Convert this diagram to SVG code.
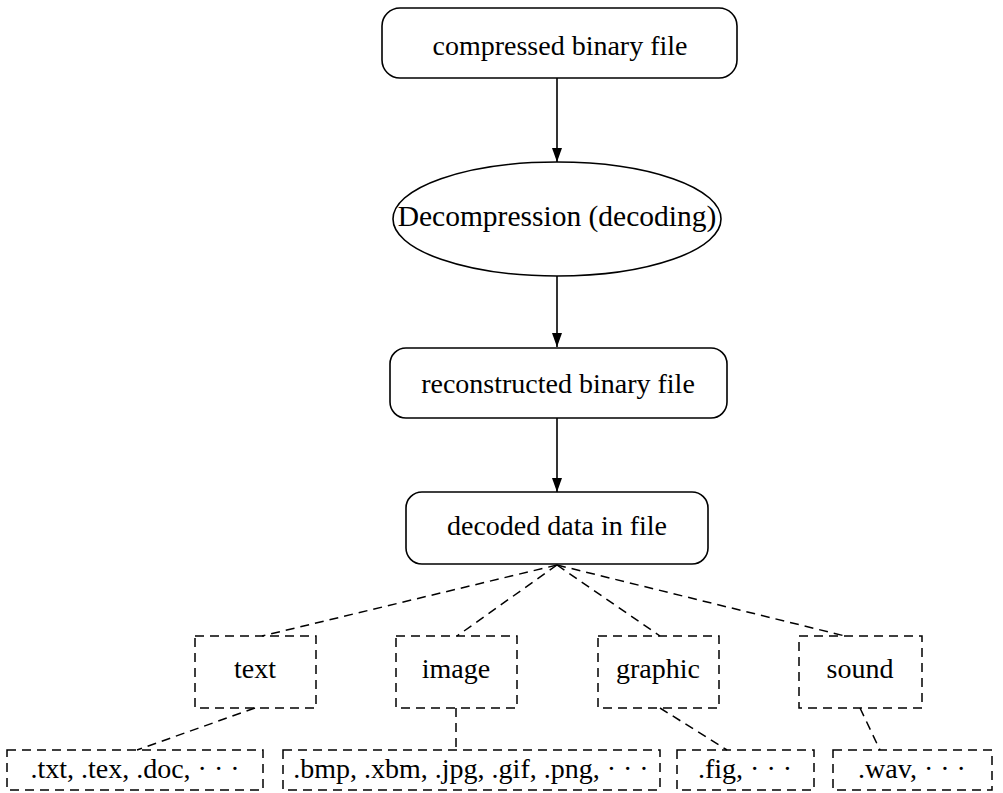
<svg xmlns="http://www.w3.org/2000/svg" width="1003" height="793" viewBox="0 0 1003 793">
  <style>
    .solid { fill: #fff; stroke: #000; stroke-width: 1.6; }
    .dash { fill: none; stroke: #000; stroke-width: 1.5; stroke-dasharray: 9 6; }
    .edge { fill: none; stroke: #000; stroke-width: 1.6; }
    .lbl { font-family: "Liberation Serif", "DejaVu Serif", serif; font-size: 28px; text-anchor: middle; fill: #000; }
    .wide { font-size: 29.5px; }
  </style>
  <defs>
    <marker id="arrow" markerWidth="14" markerHeight="10" refX="14" refY="5" orient="auto" markerUnits="userSpaceOnUse">
      <path d="M0,0 L14,5 L0,10 Z" fill="#000"/>
    </marker>
  </defs>
  <rect width="1003" height="793" fill="#fff"/>

  <g id="connectors">
    <line class="edge" x1="557" y1="78" x2="557" y2="162" marker-end="url(#arrow)"/>
    <line class="edge" x1="557" y1="276" x2="557" y2="347" marker-end="url(#arrow)"/>
    <line class="edge" x1="557" y1="418" x2="557" y2="492" marker-end="url(#arrow)"/>
    <line class="dash" x1="557" y1="565" x2="262" y2="636"/>
    <line class="dash" x1="557" y1="565" x2="457" y2="636"/>
    <line class="dash" x1="557" y1="565" x2="660" y2="636"/>
    <line class="dash" x1="557" y1="565" x2="845" y2="636"/>
    <line class="dash" x1="255" y1="708" x2="137" y2="750"/>
    <line class="dash" x1="456" y1="708" x2="456" y2="750"/>
    <line class="dash" x1="660" y1="708" x2="727" y2="750"/>
    <line class="dash" x1="860" y1="708" x2="880" y2="750"/>
  </g>

  <g id="compressed">
    <rect class="solid" x="382" y="8" width="355" height="70" rx="18"/>
    <text class="lbl" x="560" y="55">compressed binary file</text>
  </g>
  <g id="decompression">
    <ellipse class="solid" cx="557" cy="219" rx="164" ry="57"/>
    <text class="lbl wide" x="557" y="226">Decompression (decoding)</text>
  </g>
  <g id="reconstructed">
    <rect class="solid" x="390" y="348" width="337" height="70" rx="16"/>
    <text class="lbl" x="558" y="393">reconstructed binary file</text>
  </g>
  <g id="decoded">
    <rect class="solid" x="406" y="492" width="302" height="72" rx="16"/>
    <text class="lbl" x="557" y="535">decoded data in file</text>
  </g>

  <g id="text">
    <rect class="dash" x="195" y="636" width="121" height="72"/>
    <text class="lbl" x="255" y="678">text</text>
  </g>
  <g id="image">
    <rect class="dash" x="396" y="636" width="121" height="72"/>
    <text class="lbl" x="456" y="678">image</text>
  </g>
  <g id="graphic">
    <rect class="dash" x="598" y="636" width="121" height="72"/>
    <text class="lbl" x="658" y="678">graphic</text>
  </g>
  <g id="sound">
    <rect class="dash" x="799" y="636" width="123" height="72"/>
    <text class="lbl" x="860" y="678">sound</text>
  </g>

  <g id="text-ext">
    <rect class="dash" x="7" y="750" width="256" height="40"/>
    <text class="lbl" x="135" y="778">.txt, .tex, .doc, · · ·</text>
  </g>
  <g id="image-ext">
    <rect class="dash" x="283" y="750" width="377" height="40"/>
    <text class="lbl" x="471" y="778">.bmp, .xbm, .jpg, .gif, .png, · · ·</text>
  </g>
  <g id="graphic-ext">
    <rect class="dash" x="677" y="750" width="137" height="40"/>
    <text class="lbl" x="745" y="778">.fig, · · ·</text>
  </g>
  <g id="sound-ext">
    <rect class="dash" x="833" y="750" width="159" height="40"/>
    <text class="lbl" x="912" y="778">.wav, · · ·</text>
  </g>
</svg>
